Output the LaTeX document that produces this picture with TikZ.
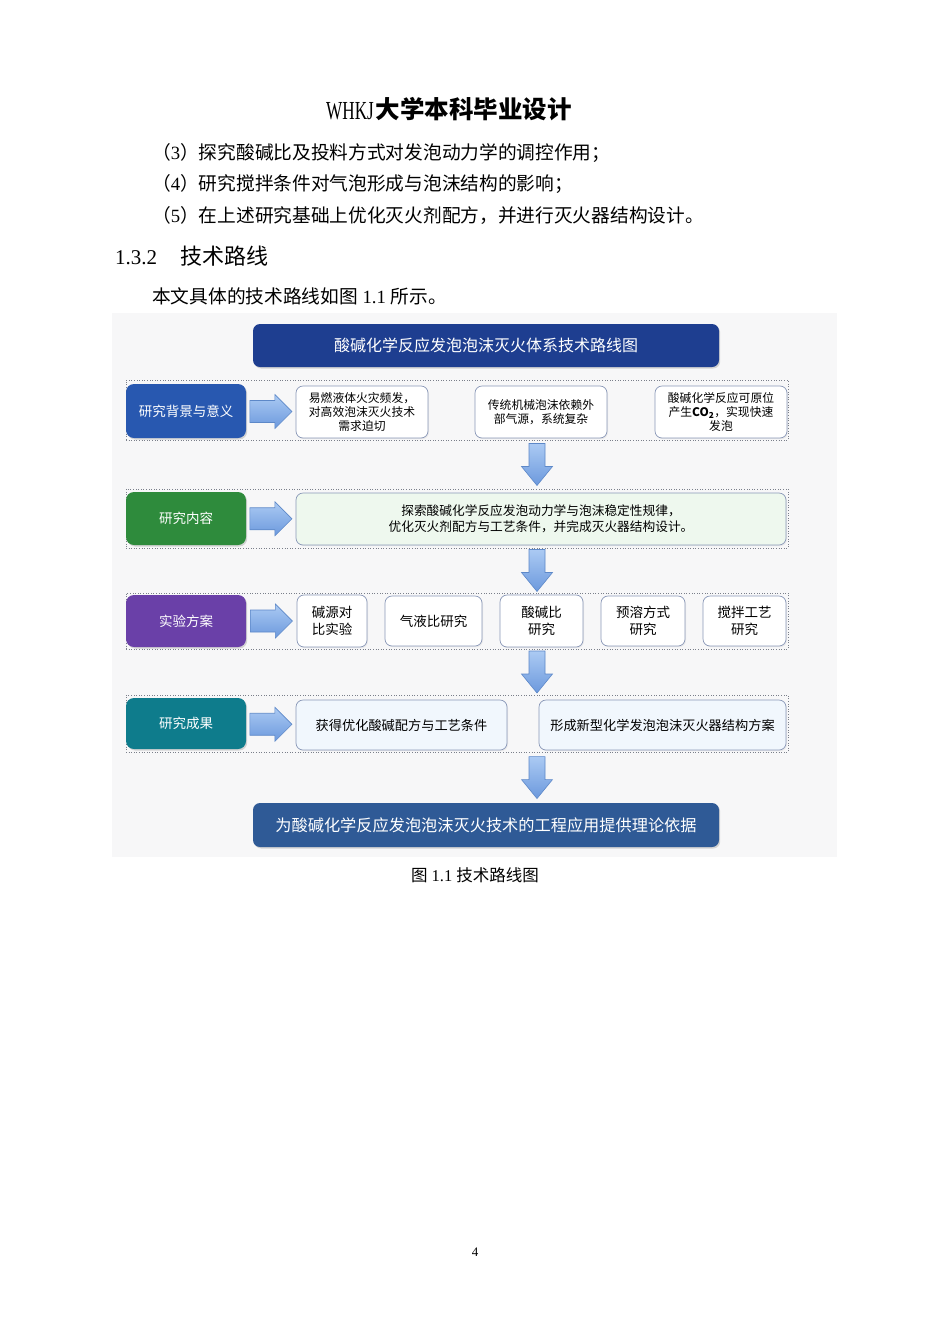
\documentclass[tikz,border=0pt]{standalone}
\usepackage{fontspec}
\setmainfont{Noto Sans CJK SC}
\newfontfamily\tm{Liberation Serif}
\usetikzlibrary{calc,shadows}
\definecolor{titleblue}{HTML}{1E3E90}
\definecolor{bgblue}{HTML}{2858B0}
\definecolor{bggreen}{HTML}{2E8B3C}
\definecolor{bgpurple}{HTML}{6A40A8}
\definecolor{bgteal}{HTML}{0E7C8C}
\definecolor{bottomblue}{HTML}{2F5A96}
\definecolor{boxline}{HTML}{8A98B8}
\definecolor{lightgreen}{HTML}{EEF8EE}
\definecolor{lightblue}{HTML}{F1F7FD}
\definecolor{figbg}{HTML}{F7F7F8}
\definecolor{arrtop}{HTML}{ABCAF3}
\definecolor{arrbot}{HTML}{6C99DD}
\definecolor{arrline}{HTML}{5D88C8}
\definecolor{frameline}{HTML}{7A7F8A}
\newcommand\fs[2]{\fontsize{#1}{#2}\selectfont}
\newcommand\downarr[1]{\path[blockarrow, shift={(#1)}] (-8,-21) -- (8,-21) -- (8,2) -- (15.5,2) -- (0,21) -- (-15.5,2) -- (-8,2) -- cycle;}
\newcommand\rightarr[1]{\path[blockarrow, shift={(#1)}] (-21,-11) -- (4,-11) -- (4,-17) -- (21,0) -- (4,17) -- (4,11) -- (-21,11) -- cycle;}
\begin{document}
\begin{tikzpicture}[x=1pt,y=-1pt,
  bodytext/.style={anchor=west, inner sep=0, font=\fs{18.7}{18.7}},
  bar/.style={rounded corners=7, minimum width=466, text=white, inner sep=0,
     drop shadow={shadow xshift=1.2pt, shadow yshift=-1.5pt, opacity=0.3}},
  leftbox/.style={rounded corners=8, minimum width=120, text=white, inner sep=0,
     font=\fs{13.5}{16}, drop shadow={shadow xshift=1.2pt, shadow yshift=-1.5pt, opacity=0.3}},
  wbox/.style={draw=boxline, line width=0.7, rounded corners=7, fill=white, inner sep=0,
     align=center, drop shadow={shadow xshift=1pt, shadow yshift=-1.2pt, opacity=0.12}},
  rowframe/.style={draw=frameline, dotted, line width=0.6, minimum width=662, inner sep=0},
  blockarrow/.style={top color=arrtop, bottom color=arrbot, draw=arrline, line width=0.6}
]
\useasboundingbox (0,0) rectangle (950,1344);
\fill[white] (0,0) rectangle (950,1344);

% page header
\node[inner sep=0] (header) at (449,109) {\raisebox{-1pt}{\scalebox{0.66}[1]{\tm\fs{26}{26}WHKJ}}\hspace{2pt}{\bfseries\fs{24.5}{24.5}大学本科毕业设计}};

% body text
\node[bodytext] (t3) at (152,153) {（{\tm 3}）探究酸碱比及投料方式对发泡动力学的调控作用；};
\node[bodytext] (t4) at (152,184) {（{\tm 4}）研究搅拌条件对气泡形成与泡沫结构的影响；};
\node[bodytext] (t5) at (152,215) {（{\tm 5}）在上述研究基础上优化灭火剂配方，并进行灭火器结构设计。};
\node[anchor=west, inner sep=0] (sec) at (115,256) {{\tm\fs{21}{21}1.3.2}\hspace{23pt}{\fs{22}{22}技术路线}};
\node[bodytext] (intro) at (152,296) {本文具体的技术路线如图{\tm\ 1.1 }所示。};

% figure background
\fill[figbg] (112,313) rectangle (837,857);

% title bar
\node[bar, fill=titleblue, minimum height=43, font=\fs{16}{16}] (title) at (486,345.5) {酸碱化学反应发泡泡沫灭火体系技术路线图};

% row frames
\node[rowframe, minimum height=60] (f1) at (457,410) {};
\node[rowframe, minimum height=59] (f2) at (457,518.5) {};
\node[rowframe, minimum height=56] (f3) at (457,621) {};
\node[rowframe, minimum height=57] (f4) at (457,723.5) {};

% left labels
\node[leftbox, fill=bgblue, minimum height=54] (l1) at (186,411) {研究背景与意义};
\node[leftbox, fill=bggreen, minimum height=53] (l2) at (186,518.5) {研究内容};
\node[leftbox, fill=bgpurple, minimum height=52] (l3) at (186,621) {实验方案};
\node[leftbox, fill=bgteal, minimum height=51] (l4) at (186,723.5) {研究成果};

% row 1
\node[wbox, minimum width=132, minimum height=52, font=\fs{11.8}{14}] (b11) at (362,412) {易燃液体火灾频发，\\对高效泡沫灭火技术\\需求迫切};
\node[wbox, minimum width=132, minimum height=52, font=\fs{11.8}{14}] (b12) at (541,412) {传统机械泡沫依赖外\\部气源，系统复杂};
\node[wbox, minimum width=132, minimum height=52, font=\fs{11.8}{14}] (b13) at (721,412) {酸碱化学反应可原位\\产生{\bfseries CO\textsubscript{2}}，实现快速\\发泡};

% row 2
\node[wbox, fill=lightgreen, minimum width=490, minimum height=52, font=\fs{12.7}{16}] (b2) at (541,519) {探索酸碱化学反应发泡动力学与泡沫稳定性规律，\\优化灭火剂配方与工艺条件，并完成灭火器结构设计。};

% row 3
\node[wbox, minimum width=70, minimum height=52, font=\fs{13.5}{17}] (b31) at (332,621) {碱源对\\比实验};
\node[wbox, minimum width=97, minimum height=50, font=\fs{13.5}{17}] (b32) at (433.5,621) {气液比研究};
\node[wbox, minimum width=83, minimum height=52, font=\fs{13.5}{17}] (b33) at (541.5,621) {酸碱比\\研究};
\node[wbox, minimum width=84, minimum height=50, font=\fs{13.5}{17}] (b34) at (643,621) {预溶方式\\研究};
\node[wbox, minimum width=83, minimum height=50, font=\fs{13.5}{17}] (b35) at (744.5,621) {搅拌工艺\\研究};

% row 4
\node[wbox, fill=lightblue, minimum width=211, minimum height=50, font=\fs{13.2}{16}] (b41) at (401.5,725) {获得优化酸碱配方与工艺条件};
\node[wbox, fill=lightblue, minimum width=247, minimum height=50, font=\fs{13.2}{16}] (b42) at (662.5,725) {形成新型化学发泡泡沫灭火器结构方案};

% bottom bar
\node[bar, fill=bottomblue, minimum height=44, font=\fs{16.2}{16.2}] (result) at (486,825) {为酸碱化学反应发泡泡沫灭火技术的工程应用提供理论依据};

% right block arrows
\coordinate (r1) at ($(l1.east)!0.5!(b11.west)$);
\coordinate (r2) at ($(l2.east)!0.5!(b2.west)$);
\coordinate (r3) at ($(l3.east)!0.5!(b31.west)$);
\coordinate (r4) at ($(l4.east)!0.5!(b41.west)$);
\rightarr{r1}
\rightarr{r2}
\rightarr{r3}
\rightarr{r4}

% down block arrows
\coordinate (d1) at ($($(f1.south)!0.5!(f2.north)$)+(80,0)$);
\coordinate (d2) at ($($(f2.south)!0.5!(f3.north)$)+(80,0)$);
\coordinate (d3) at ($($(f3.south)!0.5!(f4.north)$)+(80,0)$);
\coordinate (m4) at ($(f4.south)!0.5!(result.north)$);
\coordinate (d4) at (d3 |- m4);
\downarr{d1}
\downarr{d2}
\downarr{d3}
\downarr{d4}

% caption and page number
\node[inner sep=0, font=\fs{16.5}{16.5}] (caption) at (475,875) {图{\tm\ 1.1 }技术路线图};
\node[inner sep=0, font=\tm\fs{13}{13}] (page) at (475,1252) {4};
\end{tikzpicture}
\end{document}
